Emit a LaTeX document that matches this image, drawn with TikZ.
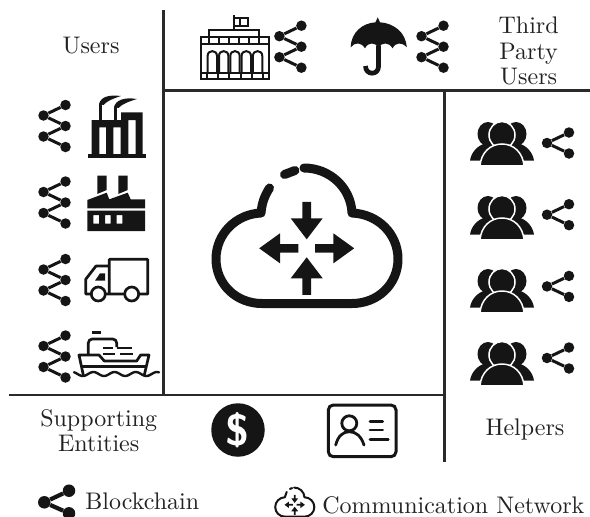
\documentclass[tikz,border=0pt]{standalone}
\usepackage{amsmath}
\usetikzlibrary{positioning}
\definecolor{iconblack}{HTML}{151515}
\definecolor{ruleblack}{HTML}{2A2A2A}
\definecolor{labelgray}{HTML}{222222}
\tikzset{
	chaindot/.style={circle,fill=iconblack,inner sep=0pt,minimum size=10.5pt},
	chainbig/.style={circle,fill=iconblack,inner sep=0pt,minimum size=12.5pt},
	chainline/.style={draw=iconblack,line width=3pt},
	rulestyle/.style={draw=ruleblack,line width=2.6pt},
	labeltext/.style={scale=2.4,text=labelgray,align=center,inner sep=0pt,font=\fontsize{10}{10.6}\selectfont},
	iconline/.style={draw=iconblack,line width=2.7pt,fill=none},
	iconfill/.style={fill=iconblack,draw=none},
	pics/chaintwo/.style={code={
		\node[chaindot] (-t) at (11,-21) {};
		\node[chaindot] (-a) at (-11,-10.5) {};
		\node[chaindot] (-m) at (11,0) {};
		\node[chaindot] (-b) at (-11,10.5) {};
		\node[chaindot] (-e) at (11,21) {};
		\draw[chainline] (-t) -- (-a) -- (-m) -- (-b) -- (-e);
	}},
	pics/chainone/.style={code={
		\node[chaindot] (-t) at (11,-10.5) {};
		\node[chaindot] (-a) at (-11,0) {};
		\node[chaindot] (-e) at (11,10.5) {};
		\draw[chainline] (-t) -- (-a) -- (-e);
	}},
	pics/crowd/.style={code={
		\fill[iconblack] (-14,-9) ellipse (10.5 and 12);
		\fill[iconblack] (14,-9) ellipse (10.5 and 12);
		\fill[iconblack] (-32,17.7) .. controls (-31,10) and (-25,2) .. (-15,0) -- (0,0) -- (0,17.7) -- cycle;
		\fill[iconblack] (32,17.7) .. controls (31,10) and (25,2) .. (15,0) -- (0,0) -- (0,17.7) -- cycle;
		\filldraw[fill=iconblack,draw=white,line width=1.5pt] (0,-8) ellipse (13 and 13.5);
		\filldraw[fill=iconblack,draw=white,line width=1.5pt] (-22,22.8) .. controls (-21,10) and (-12,1) .. (0,1) .. controls (12,1) and (21,10) .. (22,22.8) -- cycle;
	}},
	pics/cloudnet/.style={code={
		\draw[iconblack,line width=#1,line cap=round,line join=round] (-2.7,-80.3) .. controls (23.3,-80.3) and (44.3,-60.3) .. (45.3,-35.3)
			.. controls (71.3,-34.3) and (91.3,-14.3) .. (91.3,10.7) .. controls (91.3,35.7) and (71.3,55.2) .. (45.3,55.2)
			-- (-44.7,55.2) .. controls (-70.7,55.2) and (-90.7,35.7) .. (-90.7,10.7) .. controls (-90.7,-14.3) and (-70.7,-34.3) .. (-45.7,-35.3)
			.. controls (-44.7,-45.3) and (-42.7,-51.3) .. (-37.2,-60.3);
		\draw[iconblack,line width=#1,line cap=round] (-22.2,-73.8) -- (-11.7,-77.8);
		\foreach \turn in {0,180} {
			\fill[iconblack,rotate=\turn] (-4.3,-46.5) -- (4.3,-46.5) -- (4.3,-30) -- (16,-30) -- (0,-9) -- (-16,-30) -- (-4.3,-30) -- cycle;
			\fill[iconblack,rotate=\turn] (8.4,-4.3) -- (26.7,-4.3) -- (26.7,-15) -- (47.5,0) -- (26.7,15) -- (26.7,4.3) -- (8.4,4.3) -- cycle;
		}
	}},
}
\begin{document}
\begin{tikzpicture}[x=1pt,y=-1pt]
	\useasboundingbox (0,0) rectangle (590,517);

	\coordinate (ctop) at (163.3,10);
	\coordinate (cmid) at (163.3,90.3);
	\coordinate (cbot) at (163.3,395);
	\coordinate (hleft) at (9,395);
	\coordinate (hright) at (444.7,395);
	\coordinate (htop) at (444.7,90.3);
	\coordinate (hend) at (590,90.3);
	\coordinate (vend) at (444.7,462);
	\draw[rulestyle] (ctop) -- (cbot);
	\draw[rulestyle] (cmid) -- (hend);
	\draw[rulestyle] (hleft) -- (hright);
	\draw[rulestyle] (htop) -- (vend);

	\node[labeltext] (users) at (91,46) {Users};
	\node[labeltext] (thirdparty) at (528.7,51) {Third\\Party\\Users};
	\node[labeltext] (support) at (98.7,430.5) {Supporting\\Entities};
	\node[labeltext] (helpers) at (525,429) {Helpers};
	\node[labeltext] (blocklabel) at (142.3,501.7) {Blockchain};
	\node[labeltext] (commlabel) at (453.3,505) {Communication Network};

	\foreach \ypos [count=\i] in {126,202.5,280,356.5} {
		\pic (left\i) at (54.5,\ypos) {chaintwo};
	}
	\pic (topa) at (290.4,46.7) {chaintwo};
	\pic (topb) at (432.5,46.7) {chaintwo};
	\foreach \ypos [count=\i] in {143,214.7,286.4,358} {
		\pic (right\i) at (558,\ypos) {chainone};
	}
	\foreach \ypos [count=\i] in {143,217,290,363} {
		\pic (crew\i) at (502,\ypos) {crowd};
	}

	\node[chainbig] (leg0) at (69,490.7) {};
	\node[chainbig] (leg1) at (44.3,502.3) {};
	\node[chainbig] (leg2) at (69,513.3) {};
	\draw[iconblack,line width=4.2pt] (leg0) -- (leg1) -- (leg2);

	\pic at (306.7,248.3) {cloudnet=9pt};
	\pic[scale=.215] at (294.7,504.8) {cloudnet=2pt};

	% chimney factory
	\fill[iconblack,even odd rule] (91.7,120) -- (121,120) -- (121,112.3) -- (142.7,112.3) -- (142.7,155) -- (91.7,155) -- cycle
		(99.3,127.3) rectangle (106,154.5) (113.3,127.3) rectangle (120.7,154.5) (128.3,120) rectangle (135.7,154.5);
	\fill[iconblack] (87.7,154.3) rectangle (146,157.7);
	\fill[iconblack] (99,104) rectangle (102.3,120);
	\fill[iconblack] (114,107) rectangle (117.3,120);
	\fill[iconblack] (99,104) .. controls (101,97) and (108,94.5) .. (121,96) .. controls (113,98.5) and (107,101) .. (103.5,105) -- cycle;
	\fill[iconblack] (114,107) .. controls (116,100) and (124,97) .. (137,99) .. controls (129,101.5) and (122,104) .. (118.5,108) -- cycle;

	% roof factory
	\fill[iconblack] (97.3,175.7) -- (106.7,175.7) -- (106.7,190) -- (97.3,194) -- cycle;
	\fill[iconblack] (118.3,175.7) -- (127.7,175.7) -- (127.7,190) -- (118.3,194) -- cycle;
	\fill[iconblack] (87.3,200) -- (106.7,192.7) -- (109.3,199.3) -- (127.7,192.7) -- (130.7,199.3) -- (145,199.3) -- (145,208.3) -- (87.3,208.3) -- cycle;
	\fill[iconblack,even odd rule] (87.3,210.7) rectangle (145,231)
		(93.3,215) rectangle (99,223.5) (105,215) rectangle (110.7,223.5) (116.7,215) rectangle (122.3,223.5);

	% truck
	\draw[iconline,line join=round] (109.3,294) -- (109.3,259.3) -- (147.7,259.3) -- (147.7,294) -- (85.7,294) -- (85.7,279.3) -- (96,266) -- (109.3,266);
	\fill[iconblack] (95,280.7) -- (100,273.3) -- (105,273.3) -- (105,280.7) -- cycle;
	\filldraw[fill=white,draw=iconblack,line width=2.7pt] (98.3,294) circle (7);
	\filldraw[fill=white,draw=iconblack,line width=2.7pt] (131.7,294) circle (7);

	% ship
	\draw[iconline,line join=round] (83.3,375) -- (79,355) -- (99,355) -- (104.3,361) -- (136.7,361) -- (140.7,355) -- (149,355) -- (144.3,375);
	\draw[iconline] (81.7,366.7) -- (146.7,366.7);
	\draw[iconline,rounded corners=4pt] (88.3,355) -- (88.3,339) -- (116.7,339) -- (116.7,347);
	\draw[iconline] (91.7,332.3) -- (101,332.3);
	\draw[iconline,line width=2.2pt] (103.3,348.3) -- (113.3,348.3) (116.7,348.3) -- (131.7,348.3) (103.3,354.3) -- (115,354.3) (120,354.3) -- (133.3,354.3);
	\draw[iconline,line width=2.4pt,line cap=round] plot[domain=74:159,samples=70,smooth] (\x,{374+2*sin(17*(\x-74)-60)});

	% bank
	\begin{scope}[draw=iconblack,line width=2pt]
		\draw (200.7,36.7) rectangle (269,79);
		\draw (209,36.7) -- (209,30) -- (259.3,30) -- (259.3,36.7);
		\draw (234,30) -- (234,15);
		\draw (234,18.3) -- (248.3,18.3) -- (248.3,26) -- (234,26);
		\draw (240,18.3) -- (240,26);
		\draw (200.7,44.3) -- (269,44.3);
		\foreach \xpos in {209,219,229,239.3,249.3,259.3} {
			\draw (\xpos,36.7) -- (\xpos,44.3);
		}
		\draw (200.7,73.3) -- (269,73.3);
		\foreach \xpos in {212.3,223.7,235,246.3,257.6} {
			\draw (\xpos-4.7,73.3) -- (\xpos-4.7,56) .. controls (\xpos-4.7,49.5) and (\xpos+4.7,49.5) .. (\xpos+4.7,56) -- (\xpos+4.7,73.3);
		}
		\foreach \xpos in {207,218,229.4,240.7,252,263} {
			\draw (\xpos,73.3) -- (\xpos,79);
		}
	\end{scope}

	% umbrella
	\fill[iconblack] (350.7,47.3) .. controls (351,32) and (363,23) .. (375.5,22.3) -- (377.7,17.3) -- (380,22.3)
		.. controls (393,23) and (406,32) .. (406.7,47.3)
		.. controls (402,42) and (396,42) .. (392.5,48.3) .. controls (389,42) and (382,42) .. (378.5,47.5)
		.. controls (375,42) and (368,42) .. (365,48.3) .. controls (361,42) and (355,42) .. (350.7,47.3) -- cycle;
	\draw[iconblack,line width=4.7pt] (378.5,46) -- (378.5,66.5) .. controls (378.5,75.5) and (365.5,75.5) .. (365.5,66);

	% supporting icons
	\node[circle,fill=iconblack,minimum size=53.5pt,inner sep=0pt,text=white,font=\sffamily\bfseries] (dollar) at (238,430) {\scalebox{4.4}{\$}};
	\draw[iconblack,line width=3pt,rounded corners=5pt] (328.3,405) rectangle (396,456.7);
	\draw[iconblack,line width=2.8pt] (349.3,423.3) circle (7.5);
	\draw[iconblack,line width=2.8pt,line cap=round] (335.7,445) .. controls (338,436) and (343,431.7) .. (349.3,431.7) .. controls (356,431.7) and (361,436) .. (364,445);
	\draw[iconblack,line width=2.8pt,line cap=round] (370,421.7) -- (382.7,421.7) (370,430) -- (382.7,430) (370,439.3) -- (388.3,439.3);
\end{tikzpicture}
\end{document}
